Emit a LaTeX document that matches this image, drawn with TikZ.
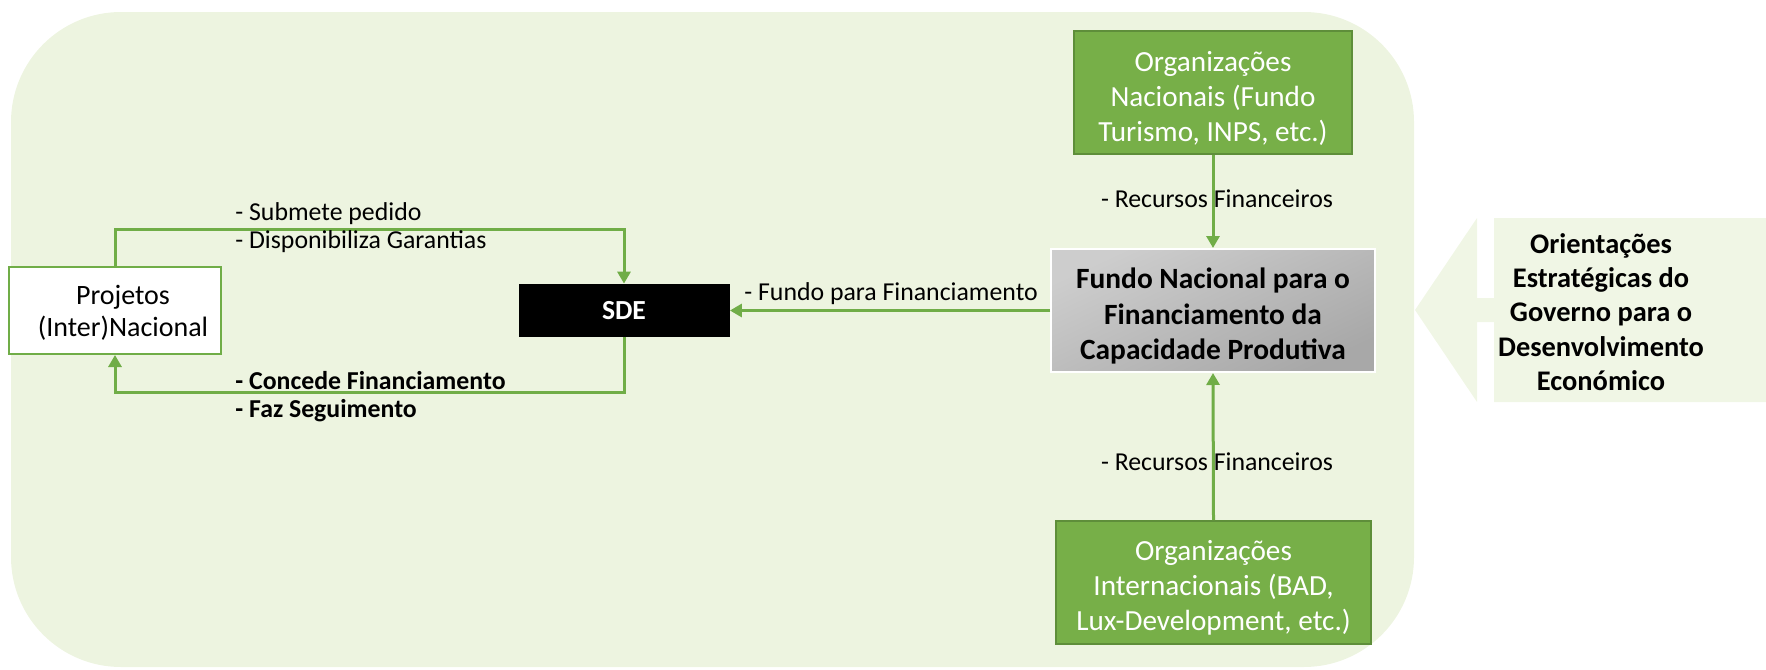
\documentclass[tikz,border=0pt]{standalone}
\usepackage{fontspec}
\setmainfont{Carlito}
\usetikzlibrary{arrows.meta}
\definecolor{bgc}{HTML}{EDF4E0}
\definecolor{arrc}{HTML}{F0F6E5}
\definecolor{gfill}{HTML}{77AF48}
\definecolor{gdraw}{HTML}{5E8E3A}
\definecolor{conc}{HTML}{70AD47}
\definecolor{greyA}{HTML}{CDCDCD}
\definecolor{greyB}{HTML}{A8A8A8}
\tikzset{
  conn/.style={draw=conc, line width=1.5pt, -{Triangle[length=6pt,width=6.5pt]}},
  lbl/.style={font=\fontsize{12.9}{15}\selectfont, inner sep=0pt, anchor=west},
  blbl/.style={lbl, font=\bfseries\fontsize{12.9}{15}\selectfont},
  greenbox/.style={fill=gfill, draw=gdraw, line width=1pt},
  greentext/.style={text=white, align=center, font=\fontsize{14.6}{17.5}\selectfont, inner sep=0pt},
}
\begin{document}
\begin{tikzpicture}[x=0.5pt,y=-0.5pt]
\useasboundingbox (0,0) rectangle (1766,669);
% background
\fill[bgc, rounded corners=55pt] (11,12) rectangle (1414,667);
% right arrow shape
\fill[arrc] (1415,310) -- (1477,218) -- (1477,298) -- (1494,298) -- (1494,218)
  -- (1766,218) -- (1766,402) -- (1494,402) -- (1494,322) -- (1477,322) -- (1477,402) -- cycle;
\node[align=center, font=\bfseries\fontsize{14.2}{17.2}\selectfont, inner sep=0pt] (orient) at (1601,312)
  {Orientações\\Estratégicas do\\Governo para o\\Desenvolvimento\\Económico};
% nodes
\node[draw=conc, fill=white, line width=1pt, minimum width=106pt, minimum height=43.5pt,
  inner sep=0pt] (proj) at (115,310.5) {};
\node[align=center, font=\fontsize{14}{16}\selectfont, inner sep=0pt] (projtxt) at (123,313)
  {Projetos\\(Inter)Nacional};
\node[fill=black, text=white, minimum width=105.5pt, minimum height=26.5pt,
  font=\bfseries\fontsize{13.8}{16}\selectfont, inner sep=0pt] (sde) at (624,310.5) {SDE};
\shade[top color=greyA, bottom color=greyB, shading angle=25] (1051,249) rectangle (1375,372);
\node[draw=white, line width=1pt, minimum width=162pt, minimum height=61.5pt,
  inner sep=0pt] (fundo) at (1213,310.5) {};
\node[align=center, font=\bfseries\fontsize{14.7}{17.8}\selectfont, inner sep=0pt] (fundotxt) at (1213,316)
  {Fundo Nacional para o\\Financiamento da\\Capacidade Produtiva};
\node[greenbox, minimum width=139pt, minimum height=61.5pt] (nac) at (1213,92.5) {};
\node[greentext] (nactxt) at (1213,98)
  {Organizações\\Nacionais (Fundo\\Turismo, INPS, etc.)};
\node[greenbox, minimum width=157.5pt, minimum height=61.5pt] (int) at (1213.5,582.5) {};
\node[greentext] (inttxt) at (1213.5,588)
  {Organizações\\Internacionais (BAD,\\Lux-Development, etc.)};
% connectors
\coordinate (t) at (0,229);
\coordinate (b) at (0,392);
\draw[conn] (proj.north) -- (proj.north |- t) -- (sde.north |- t) -- (sde.north);
\draw[conn] (sde.south) -- (sde.south |- b) -- (proj.south |- b) -- (proj.south);
\draw[conn] (fundo.west) -- (sde.east);
\draw[conn] (nac.south) -- (fundo.north);
\draw[conn] (int.north) -- (fundo.south);
% labels
\node[lbl] (l1) at (235,214) {- Submete pedido};
\node[lbl] (l2) at (235,242) {- Disponibiliza Garantias};
\node[blbl] (l3) at (235,381) {- Concede Financiamento};
\node[blbl] (l4) at (235,411) {- Faz Seguimento};
\node[lbl] (l5) at (744,294) {- Fundo para Financiamento};
\node[lbl, anchor=center] (l6) at (1217,199) {- Recursos Financeiros};
\node[lbl, anchor=center] (l7) at (1217,462) {- Recursos Financeiros};
\end{tikzpicture}
\end{document}
